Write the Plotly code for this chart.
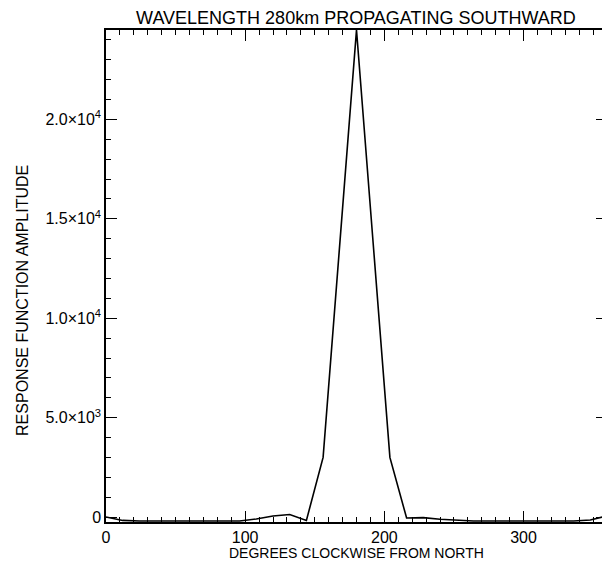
import plotly.graph_objects as go

# Data (degrees clockwise from north, response amplitude)
degrees = [0, 12, 24, 36, 48, 60, 72, 84, 96, 108, 120, 132, 144, 156, 168, 180,
           192, 204, 216, 228, 240, 252, 264, 276, 288, 300, 312, 324, 336, 348, 360]
amplitude = [0, -170, -200, -200, -200, -200, -200, -200, -200, -100, 50, 130, -170, 3000,
             13750, 24500, 13750, 3000, -50, -30, -110, -170, -200, -200, -200, -200,
             -200, -200, -200, -150, 60]

x_tickvals = [0, 100, 200, 300]
x_ticktext = ["0", "100", "200", "300"]
y_tickvals = [0, 5000, 10000, 15000, 20000]
y_ticktext = ["0", "5.0×10<sup>3</sup>", "1.0×10<sup>4</sup>", "1.5×10<sup>4</sup>", "2.0×10<sup>4</sup>"]

title_text = "WAVELENGTH 280km PROPAGATING SOUTHWARD"
x_title = "DEGREES CLOCKWISE FROM NORTH"
y_title = "RESPONSE FUNCTION AMPLITUDE"

FONT = "Liberation Sans, Arial, Helvetica, sans-serif"
X_RANGE = [0, 360]
Y_RANGE = [-250, 24500]

fig = go.Figure()
fig.add_trace(go.Scatter(x=degrees, y=amplitude, mode="lines",
                         line=dict(color="black", width=1.6), showlegend=False))
# invisible trace to activate the mirrored tick axes (top / right)
fig.add_trace(go.Scatter(x=[X_RANGE[0]], y=[Y_RANGE[0]], xaxis="x2", yaxis="y2",
                         mode="markers", marker=dict(opacity=0), hoverinfo="skip",
                         showlegend=False))

tick_common = dict(ticks="inside", tickcolor="black", tickwidth=1.2)

fig.update_layout(
    width=602, height=561,
    margin=dict(l=98, r=3, t=22, b=47),
    paper_bgcolor="white", plot_bgcolor="white",
    title=dict(text=title_text, x=0.578, xanchor="center", y=0.994, yanchor="top",
               font=dict(family=FONT, size=18, color="black")),
    xaxis=dict(
        range=X_RANGE, tickvals=x_tickvals, ticktext=x_ticktext, ticklen=11,
        showgrid=False, zeroline=False, showline=True, linecolor="black", linewidth=1.5,
        mirror=True, automargin=False, ticklabelstandoff=0,
        tickfont=dict(family=FONT, size=16, color="black"),
        minor=dict(dtick=10, tick0=0, ticklen=5, **tick_common),
        **tick_common,
    ),
    yaxis=dict(
        range=Y_RANGE, tickvals=y_tickvals, ticktext=y_ticktext, ticklen=11,
        showgrid=False, zeroline=False, showline=True, linecolor="black", linewidth=1.5,
        mirror=True, automargin=False,
        tickfont=dict(family=FONT, size=16, color="black"),
        minor=dict(dtick=1000, tick0=0, ticklen=5, **tick_common),
        **tick_common,
    ),
    xaxis2=dict(
        range=X_RANGE, overlaying="x", side="top", tickvals=x_tickvals, ticklen=11,
        showticklabels=False, showgrid=False, zeroline=False, showline=False,
        minor=dict(dtick=10, tick0=0, ticklen=5, **tick_common),
        **tick_common,
    ),
    yaxis2=dict(
        range=Y_RANGE, overlaying="y", side="right", tickvals=y_tickvals, ticklen=11,
        showticklabels=False, showgrid=False, zeroline=False, showline=False,
        minor=dict(dtick=1000, tick0=0, ticklen=5, **tick_common),
        **tick_common,
    ),
    annotations=[
        dict(text=y_title, textangle=-90, xref="paper", yref="paper",
             x=-0.167, y=0.45, xanchor="center", yanchor="middle", showarrow=False,
             font=dict(family=FONT, size=16, color="black")),
        dict(text=x_title, xref="paper", yref="paper",
             x=0.5, y=-0.063, xanchor="center", yanchor="middle", showarrow=False,
             font=dict(family=FONT, size=14, color="black")),
    ],
)

fig.write_html("out.html")
